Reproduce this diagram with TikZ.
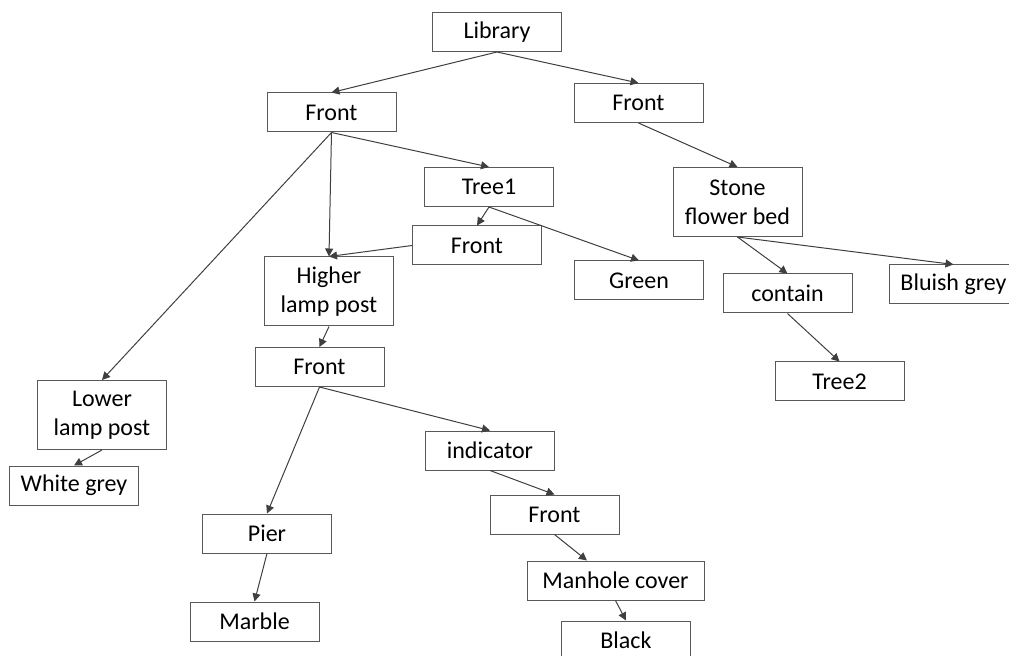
\documentclass[tikz,border=0pt]{standalone}
\usepackage{fontspec}
\setmainfont{Carlito}
\usetikzlibrary{arrows.meta}
\definecolor{ourboxgrey}{HTML}{595959}
\definecolor{ourlinegrey}{HTML}{3F3F3F}

\begin{document}
\begin{tikzpicture}[x=0.5pt,y=0.5pt]

  \tikzstyle{field}=[draw=ourboxgrey, line width=0.5pt,
                     minimum width=64.5pt, minimum height=19.5pt,
                     inner sep=2pt, font=\fontsize{12}{14.4}\selectfont]
  \tikzstyle{object}=[field, minimum height=34.5pt, align=center]
  \tikzstyle{rel}=[draw=ourlinegrey, line width=0.5pt,
                   -{Triangle[length=4pt,width=4pt]}]

  \useasboundingbox (0,0) rectangle (1009,655);

  \path
  (497,  623) node[field](lib){Library};

  \path
  (331.5,542.5) node[field](fronta){Front}
  (638.5,552)   node[field](frontb){Front};

  \path
  (489,  468)   node[field](tree){Tree1}
  (737.5,453)   node[object](stone){Stone\\flower bed}
  (477,  409.5) node[field](frontc){Front};

  \path
  (329,  363.5) node[object](higher){Higher\\lamp post}
  (639,  374.5) node[field](green){Green}
  (787.5,361.5) node[field](contain){contain}
  (953.5,370.5) node[field](bluish){Bluish grey};

  \path
  (319.5,288)   node[field](frontd){Front}
  (839.5,273.5) node[field](treeb){Tree2}
  (102,  240)   node[object](lower){Lower\\lamp post}
  (74,   169.5) node[field](white){White grey}
  (490,  204.5) node[field](indicator){indicator};

  \path
  (554.5,140.5) node[field](fronte){Front}
  (267,  121.5) node[field](pier){Pier}
  (615.5,74.5)  node[field, minimum width=88.5pt](manhole){Manhole cover}
  (254.5,33.5)  node[field](marble){Marble}
  (626,  14.5)  node[field](black){Black};

  \draw[rel] (lib.south)--(fronta.north);
  \draw[rel] (lib.south)--(frontb.north);
  \draw[rel] (fronta.south)--(tree.north);
  \draw[rel] (fronta.south)--(higher.north);
  \draw[rel] (fronta.south)--(lower.north);
  \draw[rel] (tree.south)--(frontc.north);
  \draw[rel] (tree.south)--(green.north);
  \draw[rel] (frontc.west)--(higher.north);
  \draw[rel] (frontb.south)--(stone.north);
  \draw[rel] (stone.south)--(contain.north);
  \draw[rel] (stone.south)--(bluish.north);
  \draw[rel] (contain.south)--(treeb.north);
  \draw[rel] (higher.south)--(frontd.north);
  \draw[rel] (lower.south)--(white.north);
  \draw[rel] (frontd.south)--(pier.north);
  \draw[rel] (frontd.south)--(indicator.north);
  \draw[rel] (pier.south)--(marble.north);
  \draw[rel] (indicator.south)--(fronte.north);
  \draw[rel] (fronte.south)--(manhole.145);
  \draw[rel] (manhole.south)--(black.north);

\end{tikzpicture}
\end{document}
